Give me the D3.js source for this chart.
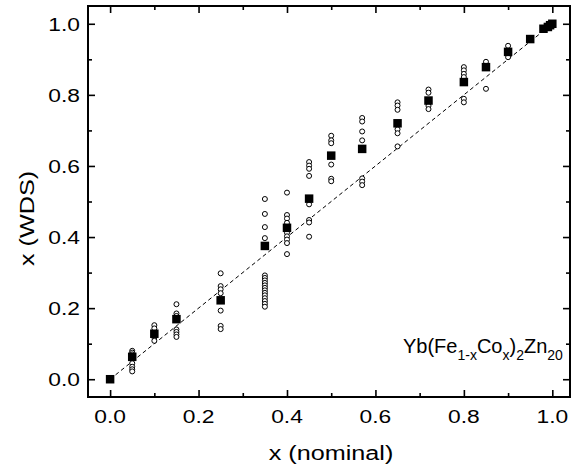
<!DOCTYPE html>
<html lang="en">
<head>
<meta charset="UTF-8">
<title>x (WDS) vs x (nominal)</title>
<script src="https://d3js.org/d3.v7.min.js"></script>
<style>
  body { margin: 0; background: #fff; font-family: "Liberation Sans", Arial, sans-serif; }
  svg { display: block; }
  .tick-label { font-size: 19px; fill: #000; }
  .axis-title { font-size: 21px; fill: #000; }
  .note { font-size: 20px; fill: #000; }
</style>
</head>
<body>
<svg id="chart" width="575" height="465"></svg>
<script>
// averaged composition (filled squares)
var meanNominal = [0, 0.05, 0.10, 0.15, 0.25, 0.35, 0.40, 0.45, 0.50, 0.57, 0.65, 0.72, 0.80, 0.85, 0.90, 0.95, 0.98, 0.99, 0.995, 1.0];
var meanWds     = [0, 0.063, 0.128, 0.169, 0.222, 0.375, 0.426, 0.508, 0.629, 0.648, 0.720, 0.784, 0.836, 0.878, 0.921, 0.957, 0.986, 0.991, 0.996, 1.0];

// single WDS spots (open circles), one list per nominal x
var spotNominal = [0.05, 0.10, 0.15, 0.25, 0.35, 0.40, 0.45, 0.50, 0.57, 0.65, 0.72, 0.80, 0.85, 0.90];
var spotWds = [
  [0.080, 0.075, 0.070, 0.045, 0.035, 0.028, 0.022],
  [0.152, 0.143, 0.118, 0.108],
  [0.211, 0.185, 0.178, 0.140, 0.133, 0.126, 0.119],
  [0.298, 0.262, 0.253, 0.242, 0.193, 0.150, 0.141],
  [0.507, 0.465, 0.428, 0.397, 0.292, 0.285, 0.278, 0.271, 0.264, 0.257, 0.250, 0.243, 0.236, 0.228, 0.220, 0.212, 0.204],
  [0.525, 0.462, 0.452, 0.440, 0.412, 0.402, 0.393, 0.383, 0.352],
  [0.611, 0.601, 0.592, 0.572, 0.492, 0.448, 0.441, 0.401],
  [0.685, 0.672, 0.664, 0.604, 0.564, 0.557],
  [0.735, 0.725, 0.697, 0.672, 0.565, 0.556, 0.546],
  [0.779, 0.770, 0.758, 0.703, 0.692, 0.655],
  [0.815, 0.806, 0.769, 0.760],
  [0.878, 0.869, 0.859, 0.850, 0.789, 0.779],
  [0.893, 0.817],
  [0.938, 0.906]
];

var majorTicks = [0, 0.2, 0.4, 0.6, 0.8, 1.0];
var minorTicks = [0.1, 0.3, 0.5, 0.7, 0.9];

// plot frame (window.top is read-only, so no bare "top")
var frame = {left: 88, right: 570, top: 6, bottom: 397};
var stretch = 1.2;  // the labels in the original are drawn wide

var svg = d3.select("#chart");

var x = d3.scaleLinear().domain([-0.05, 1.04]).range([frame.left, frame.right]);
var y = d3.scaleLinear().domain([-0.05, 1.05]).range([frame.bottom, frame.top]);

// ticks on all four sides, pointing in
function ticks(axis, pos, size) {
  var g = svg.append("g")
      .attr("transform", pos)
      .call(axis.tickSizeInner(size).tickSizeOuter(0).tickFormat(""));
  g.select(".domain").remove();
  g.selectAll("line").attr("stroke", "#000").attr("stroke-width", 1.6);
}
ticks(d3.axisTop(x).tickValues(majorTicks), "translate(0," + frame.bottom + ")", 7);
ticks(d3.axisTop(x).tickValues(minorTicks), "translate(0," + frame.bottom + ")", 4);
ticks(d3.axisBottom(x).tickValues(majorTicks), "translate(0," + frame.top + ")", 7);
ticks(d3.axisBottom(x).tickValues(minorTicks), "translate(0," + frame.top + ")", 4);
ticks(d3.axisRight(y).tickValues(majorTicks), "translate(" + frame.left + ",0)", 7);
ticks(d3.axisRight(y).tickValues(minorTicks), "translate(" + frame.left + ",0)", 4);
ticks(d3.axisLeft(y).tickValues(majorTicks), "translate(" + frame.right + ",0)", 7);
ticks(d3.axisLeft(y).tickValues(minorTicks), "translate(" + frame.right + ",0)", 4);

svg.append("rect")
    .attr("x", frame.left).attr("y", frame.top)
    .attr("width", frame.right - frame.left).attr("height", frame.bottom - frame.top)
    .attr("fill", "none").attr("stroke", "#000").attr("stroke-width", 2);

// tick labels
svg.append("g").selectAll("text")
    .data(majorTicks)
  .enter().append("text")
    .attr("class", "tick-label")
    .attr("transform", function(d) { return "translate(" + x(d) + ",423) scale(" + stretch + ",1)"; })
    .attr("text-anchor", "middle")
    .text(function(d) { return d.toFixed(1); });

svg.append("g").selectAll("text")
    .data(majorTicks)
  .enter().append("text")
    .attr("class", "tick-label")
    .attr("transform", function(d) { return "translate(80," + (y(d) + 7) + ") scale(" + stretch + ",1)"; })
    .attr("text-anchor", "end")
    .text(function(d) { return d.toFixed(1); });

// axis titles
svg.append("text")
    .attr("class", "axis-title")
    .attr("transform", "translate(" + ((frame.left + frame.right) / 2 + 2) + ",460) scale(" + stretch + ",1)")
    .attr("text-anchor", "middle")
    .text("x (nominal)");

svg.append("text")
    .attr("class", "axis-title")
    .attr("transform", "translate(34," + ((frame.top + frame.bottom) / 2 + 17) + ") rotate(-90) scale(" + stretch + ",1)")
    .attr("text-anchor", "middle")
    .text("x (WDS)");

// y = x guide
svg.append("line")
    .attr("x1", x(0)).attr("y1", y(0))
    .attr("x2", x(1)).attr("y2", y(1))
    .attr("stroke", "#000").attr("stroke-width", 1)
    .attr("stroke-dasharray", "4,3");

// open circles
var spots = [];
spotNominal.forEach(function(n, i) {
  spotWds[i].forEach(function(v) { spots.push([n, v]); });
});
svg.append("g").selectAll("circle")
    .data(spots)
  .enter().append("circle")
    .attr("cx", function(d) { return x(d[0]); })
    .attr("cy", function(d) { return y(d[1]); })
    .attr("r", 2.5)
    .attr("fill", "#fff")
    .attr("stroke", "#000")
    .attr("stroke-width", 1);

// filled squares
var sq = 8.5;
svg.append("g").selectAll("rect")
    .data(meanNominal)
  .enter().append("rect")
    .attr("x", function(d) { return x(d) - sq / 2; })
    .attr("y", function(d, i) { return y(meanWds[i]) - sq / 2; })
    .attr("width", sq).attr("height", sq)
    .attr("fill", "#000");

// formula label
var note = svg.append("text")
    .attr("class", "note")
    .attr("x", 403)
    .attr("y", 353);
note.append("tspan").text("Yb(Fe");
note.append("tspan").attr("dy", 7).style("font-size", "14px").text("1-x");
note.append("tspan").attr("dy", -7).text("Co");
note.append("tspan").attr("dy", 7).style("font-size", "14px").text("x");
note.append("tspan").attr("dy", -7).text(")");
note.append("tspan").attr("dy", 7).style("font-size", "14px").text("2");
note.append("tspan").attr("dy", -7).text("Zn");
note.append("tspan").attr("dy", 7).style("font-size", "14px").text("20");
</script>
</body>
</html>
